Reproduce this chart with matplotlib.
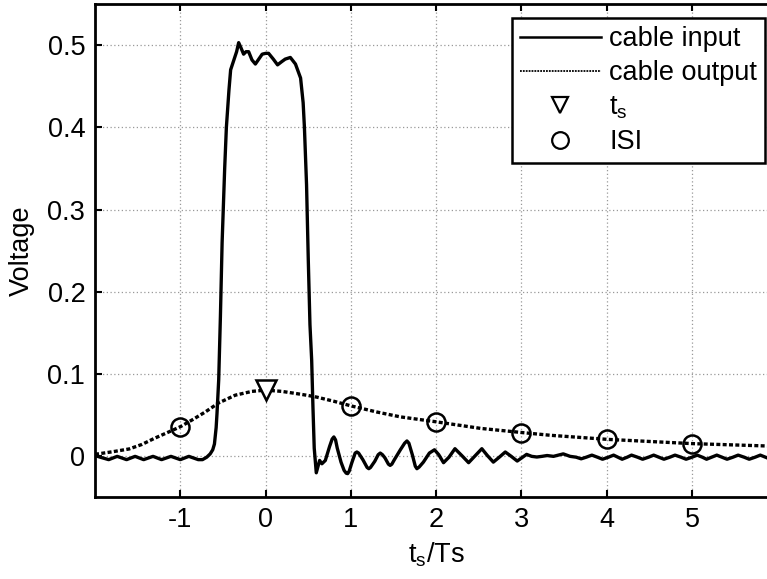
import numpy as np
import matplotlib
matplotlib.use('Agg')
import matplotlib.pyplot as plt
from matplotlib.lines import Line2D

plt.rcParams['font.family'] = ['Liberation Sans', 'DejaVu Sans']
plt.rcParams['mathtext.fontset'] = 'custom'
plt.rcParams['mathtext.rm'] = 'Liberation Sans'
plt.rcParams['mathtext.it'] = 'Liberation Sans'
plt.rcParams['axes.unicode_minus'] = False

# cable input (pulse with ringing)
t_in = [-2.00, -1.94, -1.84, -1.74, -1.63, -1.53, -1.43, -1.32, -1.22, -1.11,
        -1.00, -0.90, -0.79, -0.74, -0.69, -0.65, -0.62, -0.60, -0.58, -0.57,
        -0.55, -0.53, -0.51, -0.48, -0.46, -0.43, -0.41, -0.375, -0.34, -0.316,
        -0.29, -0.258, -0.23, -0.199, -0.16, -0.12, -0.08, -0.04, 0.00, 0.035,
        0.09, 0.14, 0.19, 0.23, 0.29, 0.35, 0.41, 0.44, 0.455, 0.48,
        0.50, 0.52, 0.54, 0.555, 0.57, 0.594, 0.615, 0.633, 0.66, 0.70,
        0.75, 0.78, 0.80, 0.82, 0.84, 0.884, 0.92, 0.945, 0.962, 0.98,
        1.01, 1.05, 1.07, 1.09, 1.14, 1.19, 1.21, 1.23,
        1.28, 1.32, 1.344, 1.37, 1.40, 1.44, 1.46, 1.48, 1.51, 1.58, 1.63, 1.657, 1.68, 1.72,
        1.755, 1.774, 1.80, 1.85,
        1.92, 1.98, 2.03, 2.086, 2.15, 2.22, 2.30, 2.38, 2.46, 2.535,
        2.60, 2.67, 2.74, 2.81, 2.88, 2.95, 3.00, 3.06, 3.12, 3.18,
        3.24, 3.30, 3.375, 3.49, 3.57, 3.64, 3.70, 3.76, 3.825, 3.89,
        3.95, 4.02, 4.08, 4.13, 4.18, 4.24, 4.29, 4.36, 4.42, 4.49,
        4.55, 4.61, 4.67, 4.74, 4.80, 4.87, 4.93, 5.00, 5.06, 5.12,
        5.17, 5.23, 5.29, 5.35, 5.41, 5.48, 5.54, 5.61, 5.67, 5.74,
        5.80, 5.86, 5.92]
v_in = [0.001, -0.001, -0.004, 0.000, -0.004, 0.000, -0.004, 0.000, -0.004, 0.000,
        -0.004, 0.000, -0.004, -0.004, -0.001, 0.003, 0.008, 0.015, 0.035, 0.052,
        0.093, 0.17, 0.26, 0.35, 0.40, 0.445, 0.47, 0.481, 0.492, 0.503,
        0.497, 0.489, 0.492, 0.492, 0.482, 0.477, 0.483, 0.489, 0.490, 0.490,
        0.483, 0.476, 0.480, 0.483, 0.485, 0.477, 0.46, 0.43, 0.40, 0.33,
        0.24, 0.16, 0.117, 0.06, 0.01, -0.020, -0.012, -0.005, -0.009, -0.005,
        0.012, 0.021, 0.0236, 0.020, 0.010, -0.007, -0.017, -0.0205, -0.021, -0.018,
        -0.008, 0.004, 0.0053, 0.004, -0.004, -0.0135, -0.015, -0.0135,
        -0.006, 0.002, 0.004, 0.002, -0.002, -0.0095, -0.011, -0.0095, -0.004, 0.008, 0.016, 0.0187, 0.016, 0.002,
        -0.012, -0.015, -0.013, -0.007,
        0.004, 0.008, 0.002, -0.0077, -0.001, 0.0093, 0.001, -0.0077, 0.001, 0.0093,
        0.001, -0.007, -0.001, 0.0053, 0.000, -0.0057, -0.002, 0.0024, 0.000, -0.0008,
        0.000, 0.001, 0.000, 0.003, 0.000, -0.001, -0.003, -0.001, 0.0015, -0.001,
        -0.0035, -0.001, 0.0015, -0.001, -0.0035, -0.001, 0.0015, -0.001, -0.0035, -0.001,
        0.0015, -0.001, -0.0035, -0.001, 0.0015, -0.001, -0.0035, -0.001, 0.0015, -0.001,
        -0.0035, -0.001, 0.0015, -0.001, -0.0035, -0.001, 0.0015, -0.001, -0.0035, -0.001,
        0.0015, -0.001, -0.0035]

# cable output (smooth, attenuated)
t_out = [-2.0, -1.8, -1.6, -1.45, -1.31, -1.15, -1.0, -0.85, -0.707, -0.55,
         -0.355, -0.16, 0.0, 0.19, 0.35, 0.5, 0.6, 0.8, 1.0, 1.3,
         1.58, 2.0, 2.52, 3.0, 3.34, 4.0, 5.0, 5.88, 6.0]
v_out = [0.0025, 0.0055, 0.009, 0.0145, 0.0216, 0.029, 0.036, 0.045, 0.054, 0.065,
         0.0744, 0.079, 0.0805, 0.079, 0.0765, 0.074, 0.072, 0.067, 0.0614, 0.054,
         0.048, 0.042, 0.034, 0.029, 0.0256, 0.0207, 0.0155, 0.0126, 0.0123]

# sampling instant and ISI samples
ts_x = [0]
ts_y = [0.0805]
isi_x = [-1, 1, 2, 3, 4, 5]
isi_y = [0.036, 0.0614, 0.042, 0.029, 0.0207, 0.0155]

fig = plt.figure(figsize=(7.67, 5.79), dpi=100)
ax = fig.add_axes([0.1239, 0.1408, 0.8896, 0.8523])

ax.plot(t_in, v_in, color='k', lw=2.4, solid_joinstyle='round')
ax.plot(t_out, v_out, color='k', lw=2.4, linestyle=(0, (1.2, 0.7)))
ax.plot(ts_x, ts_y, linestyle='none', marker='v', ms=14, mfc='white', mec='k', mew=1.8)
ax.plot(isi_x, isi_y, linestyle='none', marker='o', ms=13, mfc='none', mec='k', mew=1.8)

ax.set_xlim(-2, 6)
ax.set_ylim(-0.05, 0.55)
ax.set_xticks([-1, 0, 1, 2, 3, 4, 5])
ax.set_xticklabels(['-1', '0', '1', '2', '3', '4', '5'])
ax.set_yticks([0, 0.1, 0.2, 0.3, 0.4, 0.5])
ax.set_yticklabels(['0', '0.1', '0.2', '0.3', '0.4', '0.5'])
ax.tick_params(direction='in', length=5, width=1.5, labelsize=19.5, top=True, right=True, pad=7)
for s in ax.spines.values():
    s.set_linewidth(2.0)
ax.grid(True, color='0.6', linestyle=(0, (1, 2)), lw=0.9)

ax.set_xlabel(r'$\mathregular{t_s}$/Ts', fontsize=19.5, labelpad=5)
ax.set_ylabel('Voltage', fontsize=19.5, labelpad=9)

handles = [
    Line2D([], [], color='k', lw=1.8),
    Line2D([], [], color='k', lw=1.3, linestyle=(0, (1, 0.6))),
    Line2D([], [], linestyle='none', marker='v', ms=12, mfc='white', mec='k', mew=1.6),
    Line2D([], [], linestyle='none', marker='o', ms=12, mfc='none', mec='k', mew=1.6),
]
labels = ['cable input', 'cable output', r'$\mathregular{t_s}$', 'ISI']
leg = ax.legend(handles, labels, loc='upper right', bbox_to_anchor=(0.9974, 0.9689),
                bbox_transform=fig.transFigure, borderaxespad=0, fontsize=19.5,
                fancybox=False, framealpha=1, edgecolor='k', handlelength=3.0,
                handletextpad=0.3, labelspacing=0.3, borderpad=0.3)
leg.get_frame().set_linewidth(1.8)

fig.savefig('out.png', dpi=100)
